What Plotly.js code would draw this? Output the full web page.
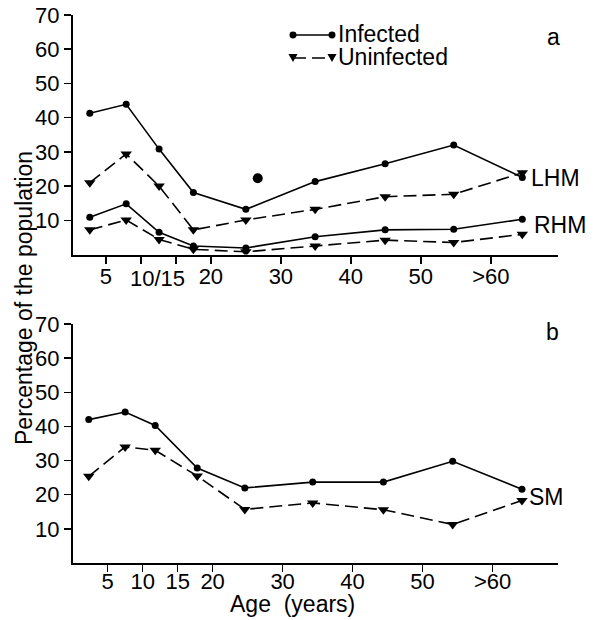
<!DOCTYPE html>
<html>
<head>
<meta charset="utf-8">
<script src="https://cdn.plot.ly/plotly-3.0.1.min.js"></script>
<style>html,body{margin:0;padding:0;background:#fff;}#chart{width:595px;height:620px;}</style>
</head>
<body>
<div id="chart"></div>
<script>
// ---- data ----
const agesA = [2.7, 7.9, 12.6, 17.5, 25.0, 34.9, 44.9, 54.7, 64.5];
const lhmInfected   = [41.3, 43.9, 30.8, 18.1, 13.2, 21.3, 26.5, 32.0, 22.5];
const lhmUninfected = [21.0, 29.4, 20.0, 7.2, 10.1, 13.2, 16.9, 17.6, 23.9];
const rhmInfected   = [10.9, 14.8, 6.5, 2.5, 1.9, 5.2, 7.2, 7.4, 10.3];
const rhmUninfected = [7.2, 10.1, 4.4, 1.5, 0.8, 2.5, 4.2, 3.5, 5.9];
const strayAge = [26.7];
const strayVal = [22.3];

const agesB = [2.3, 7.5, 11.8, 17.8, 24.6, 34.3, 44.4, 54.3, 64.2];
const smInfected   = [42.0, 44.2, 40.3, 27.8, 22.0, 23.7, 23.7, 29.8, 21.6];
const smUninfected = [25.4, 34.0, 33.0, 25.5, 15.7, 17.6, 15.6, 11.3, 18.3];

const yTicks = [10, 20, 30, 40, 50, 60, 70];
const xTicks = [5, 10, 15, 20, 30, 40, 50, 60];
const xLabelsA = ['5', '', '', '20', '30', '40', '50', '>60'];
const xLabelsB = ['5', '10', '15', '20', '30', '40', '50', '>60'];

// ---- styling ----
const FONT = 'Liberation Sans, Arial, Helvetica, sans-serif';
const BLACK = '#000';
const DASH = '13px,6px';

function inf(x, y, xa, ya) {
  return {x: x, y: y, xaxis: xa, yaxis: ya, type: 'scatter', mode: 'lines+markers',
    line: {color: BLACK, width: 1.6}, marker: {symbol: 'circle', size: 7, color: BLACK},
    showlegend: false, hoverinfo: 'skip'};
}
function uninf(x, y, xa, ya) {
  return {x: x, y: y, xaxis: xa, yaxis: ya, type: 'scatter', mode: 'lines+markers',
    line: {color: BLACK, width: 1.6, dash: DASH},
    marker: {symbol: 'triangle-down', size: 10, color: BLACK},
    showlegend: false, hoverinfo: 'skip'};
}

const traces = [
  inf(agesA, lhmInfected, 'x', 'y'),
  uninf(agesA, lhmUninfected, 'x', 'y'),
  inf(agesA, rhmInfected, 'x', 'y'),
  uninf(agesA, rhmUninfected, 'x', 'y'),
  {x: strayAge, y: strayVal, xaxis: 'x', yaxis: 'y', type: 'scatter', mode: 'markers',
   marker: {symbol: 'circle', size: 10, color: BLACK}, showlegend: false, hoverinfo: 'skip'},
  inf(agesB, smInfected, 'x2', 'y2'),
  uninf(agesB, smUninfected, 'x2', 'y2')
];

// layout geometry
const L = 73, R = 37, T = 15, B = 57;
const H = 620 - T - B;
const topBottomPx = 254.5, botTopPx = 324;
const domTop = [(620 - B - topBottomPx) / H, 1];
const domBot = [0, (620 - B - botTopPx) / H];
const xRangeA = [0.3, 69.6];
const xRangeB = [0.05, 69.35];

function axisX(range, labels, anchor, standoff) {
  return {range: range, anchor: anchor, tickmode: 'array', tickvals: xTicks, ticktext: labels,
    ticks: 'outside', ticklen: 7, tickwidth: 1.5, tickcolor: BLACK, ticklabelstandoff: standoff,
    showline: true, linecolor: BLACK, linewidth: 2, showgrid: false, zeroline: false,
    tickfont: {family: FONT, size: 22, color: BLACK}, fixedrange: true};
}
function axisY(domain, anchor) {
  return {range: [0, 70], domain: domain, anchor: anchor, tickmode: 'array', tickvals: yTicks,
    ticks: 'outside', ticklen: 7, tickwidth: 1.5, tickcolor: BLACK,
    showline: true, linecolor: BLACK, linewidth: 2, showgrid: false, zeroline: false,
    tickfont: {family: FONT, size: 22, color: BLACK}, fixedrange: true};
}

// pixel helpers for decorations in the top panel
const pxX = px => xRangeA[0] + (px - L) * (xRangeA[1] - xRangeA[0]) / (595 - L - R);
const pxY = py => (topBottomPx - py) * 70 / (topBottomPx - T);

const triW = 0.65, triH = 1.2;
function tri(cx, cy) {
  return {type: 'path', xref: 'x', yref: 'y', fillcolor: BLACK, line: {width: 0},
    path: `M ${cx - triW},${cy + triH} L ${cx + triW},${cy + triH} L ${cx},${cy - triH} Z`};
}
function dot(cx, cy) {
  const rx = 0.5, ry = 1.0;
  return {type: 'circle', xref: 'x', yref: 'y', fillcolor: BLACK, line: {width: 0},
    x0: cx - rx, x1: cx + rx, y0: cy - ry, y1: cy + ry};
}
const lgX0 = pxX(293), lgX1 = pxX(332), lgY1 = pxY(35), lgY2 = pxY(58);
const shapes = [
  {type: 'line', xref: 'x', yref: 'y', x0: lgX0, x1: lgX1, y0: lgY1, y1: lgY1, line: {color: BLACK, width: 1.5}},
  dot(lgX0, lgY1), dot(lgX1, lgY1),
  {type: 'line', xref: 'x', yref: 'y', x0: lgX0, x1: lgX1, y0: lgY2, y1: lgY2, line: {color: BLACK, width: 1.5, dash: DASH}},
  tri(lgX0, lgY2), tri(lgX1, lgY2)
];

const txt = (size) => ({family: FONT, size: size, color: BLACK});
const annotations = [
  {text: 'Infected', xref: 'x', yref: 'y', x: pxX(336), y: pxY(34), xanchor: 'left', yanchor: 'middle', showarrow: false, font: txt(23)},
  {text: 'Uninfected', xref: 'x', yref: 'y', x: pxX(336), y: pxY(57), xanchor: 'left', yanchor: 'middle', showarrow: false, font: txt(23)},
  {text: 'a', xref: 'paper', yref: 'paper', x: (553 - L) / (595 - L - R), y: (620 - B - 37) / H, xanchor: 'center', yanchor: 'middle', showarrow: false, font: txt(23)},
  {text: 'b', xref: 'paper', yref: 'paper', x: (552 - L) / (595 - L - R), y: (620 - B - 332) / H, xanchor: 'center', yanchor: 'middle', showarrow: false, font: txt(23)},
  {text: 'LHM', xref: 'paper', yref: 'paper', x: (529 - L) / (595 - L - R), y: (620 - B - 178) / H, xanchor: 'left', yanchor: 'middle', showarrow: false, font: txt(23)},
  {text: 'RHM', xref: 'paper', yref: 'paper', x: (532 - L) / (595 - L - R), y: (620 - B - 225) / H, xanchor: 'left', yanchor: 'middle', showarrow: false, font: txt(23)},
  {text: 'SM', xref: 'paper', yref: 'paper', x: (527 - L) / (595 - L - R), y: (620 - B - 497) / H, xanchor: 'left', yanchor: 'middle', showarrow: false, font: txt(23)},
  {text: '10/15', xref: 'paper', yref: 'paper', x: (157 - L) / (595 - L - R), y: (620 - B - 278.5) / H, xanchor: 'center', yanchor: 'middle', showarrow: false, font: txt(22)},
  {text: 'Age  (years)', xref: 'paper', yref: 'paper', x: (292 - L) / (595 - L - R), y: (620 - B - 604) / H, xanchor: 'center', yanchor: 'middle', showarrow: false, font: txt(23)},
  {text: 'Percentage of the population', xref: 'paper', yref: 'paper', x: (24 - L) / (595 - L - R), y: (620 - B - 298) / H, xanchor: 'center', yanchor: 'middle', textangle: -90, showarrow: false, font: txt(23)}
];

const layout = {
  width: 595, height: 620,
  margin: {l: L, r: R, t: T, b: B},
  paper_bgcolor: '#fff', plot_bgcolor: '#fff',
  showlegend: false,
  xaxis: axisX(xRangeA, xLabelsA, 'y', -6),
  yaxis: axisY(domTop, 'x'),
  xaxis2: axisX(xRangeB, xLabelsB, 'y2', -9),
  yaxis2: axisY(domBot, 'x2'),
  shapes: shapes,
  annotations: annotations
};

Plotly.newPlot('chart', traces, layout, {staticPlot: true, displayModeBar: false});
</script>
</body>
</html>
